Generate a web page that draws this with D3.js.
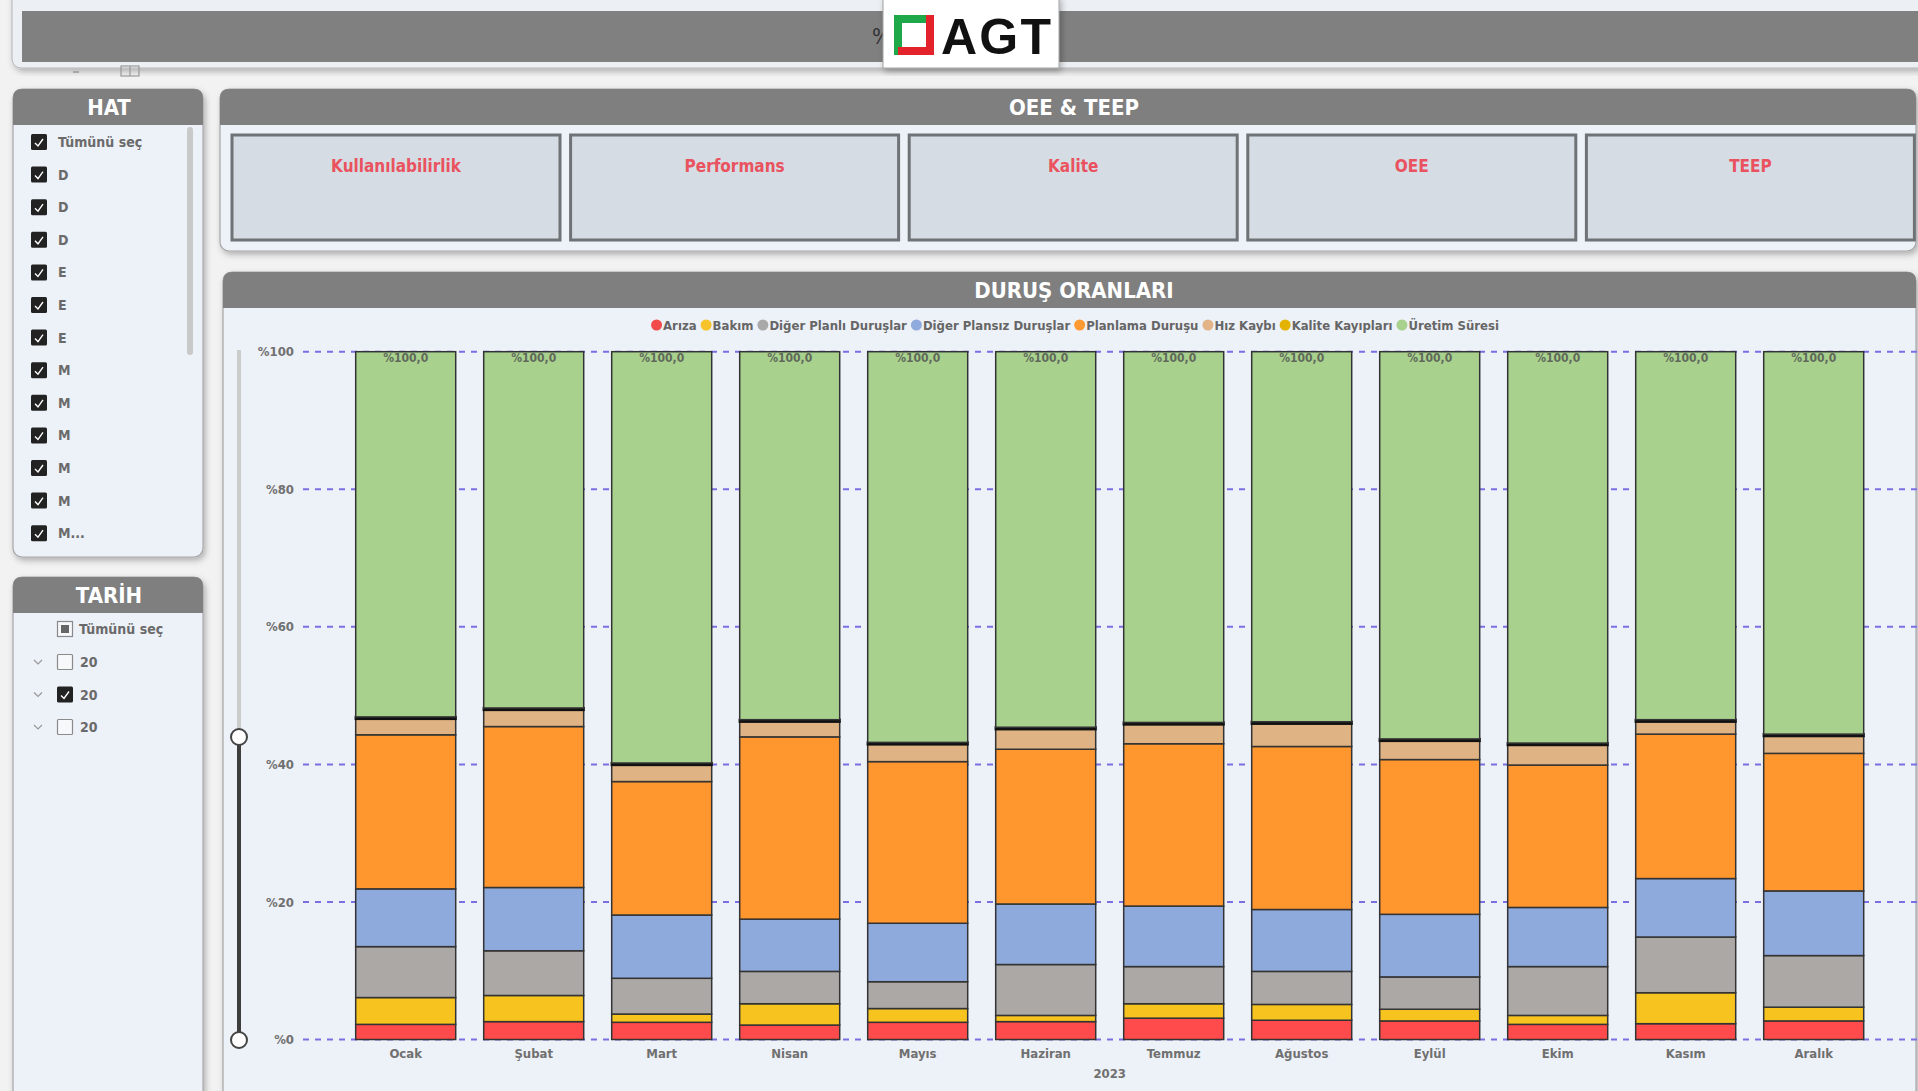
<!DOCTYPE html>
<html>
<head>
<meta charset="utf-8">
<script src="https://cdn.jsdelivr.net/npm/d3@7"></script>
<style>
html, body { margin: 0; padding: 0; background: #f2f2f2; overflow: hidden; }
svg { display: block; }
</style>
</head>
<body>
<div class="canvas"></div>
<script>
// chart data (values in % of total time)
const months = ['Ocak', 'Şubat', 'Mart', 'Nisan', 'Mayıs', 'Haziran', 'Temmuz', 'Ağustos', 'Eylül', 'Ekim', 'Kasım', 'Aralık']
const series = ['Arıza', 'Bakım', 'Diğer Planlı Duruşlar', 'Diğer Plansız Duruşlar', 'Planlama Duruşu', 'Hız Kaybı', 'Kalite Kayıpları', 'Üretim Süresi']
const seriesColors = ['#ff4b4b', '#f7c31f', '#aca8a5', '#8ea9dc', '#ff962e', '#dfb383', '#e2b000', '#a9d18e']
const legendColors = ['#f24b4b', '#f6c42a', '#a9a9a9', '#8faadc', '#ff9a33', '#e2b487', '#e3b300', '#a9d18e']

const ariza    = [2.2, 2.6, 2.5, 2.1, 2.5, 2.6, 3.1, 2.8, 2.7, 2.2, 2.3, 2.7]
const bakim    = [3.9, 3.8, 1.2, 3.1, 2.0, 0.9, 2.1, 2.3, 1.7, 1.3, 4.5, 2.0]
const planli   = [7.4, 6.5, 5.2, 4.7, 3.9, 7.4, 5.4, 4.8, 4.7, 7.1, 8.1, 7.5]
const plansiz  = [8.4, 9.2, 9.2, 7.6, 8.5, 8.8, 8.8, 9.0, 9.1, 8.6, 8.5, 9.4]
const planlama = [22.4, 23.4, 19.4, 26.5, 23.5, 22.5, 23.6, 23.7, 22.5, 20.7, 21.0, 20.0]
const hizKaybi = [2.3, 2.4, 2.4, 2.2, 2.5, 2.9, 2.8, 3.3, 2.7, 2.9, 1.8, 2.5]
const kalite   = [0.3, 0.3, 0.3, 0.3, 0.3, 0.3, 0.3, 0.3, 0.3, 0.3, 0.3, 0.3]
const uretim   = [53.1, 51.8, 59.8, 53.5, 56.8, 54.6, 53.9, 53.8, 56.3, 56.9, 53.5, 55.6]
const totals   = ['%100,0', '%100,0', '%100,0', '%100,0', '%100,0', '%100,0', '%100,0', '%100,0', '%100,0', '%100,0', '%100,0', '%100,0']

const yTicks = [0, 20, 40, 60, 80, 100]
const yearLabel = '2023'

const hatItems = ['Tümünü seç', 'D', 'D', 'D', 'E', 'E', 'E', 'M', 'M', 'M', 'M', 'M', 'M...']
const tarihItems = ['20', '20', '20']
const tarihChecked = [false, true, false]
const cards = ['Kullanılabilirlik', 'Performans', 'Kalite', 'OEE', 'TEEP']

const font = "'DejaVu Sans Condensed', 'Liberation Sans Narrow', Roboto, sans-serif"

const svg = d3.select('.canvas').append('svg')
    .attr('width', 1918)
    .attr('height', 1091)
    .style('font-family', font)

// drop shadow
const defs = svg.append('defs')
defs.append('filter').attr('id', 'shadow')
    .attr('x', '-5%').attr('y', '-5%').attr('width', '110%').attr('height', '115%')
    .append('feDropShadow')
    .attr('dx', 2).attr('dy', 3).attr('stdDeviation', 3)
    .attr('flood-color', '#000').attr('flood-opacity', 0.28)

// ---------- top header ----------
svg.append('rect')
    .attr('x', 12).attr('y', -12).attr('width', 1930).attr('height', 80).attr('rx', 9)
    .attr('fill', '#eceff3').attr('stroke', '#b5b5b5').attr('filter', 'url(#shadow)')
svg.append('rect')
    .attr('x', 22).attr('y', 11).attr('width', 1900).attr('height', 51)
    .attr('fill', '#808080')
svg.append('text')
    .attr('x', 872).attr('y', 44).attr('font-size', 22).attr('fill', '#333')
    .text('%')

// small icons under header
svg.append('line').attr('x1', 73).attr('x2', 79).attr('y1', 72).attr('y2', 72)
    .attr('stroke', '#999').attr('stroke-width', 1.5)
svg.append('rect').attr('x', 121).attr('y', 66).attr('width', 18).attr('height', 10)
    .attr('fill', 'none').attr('stroke', '#999').attr('stroke-width', 1.2)
svg.append('line').attr('x1', 130).attr('x2', 130).attr('y1', 66).attr('y2', 76)
    .attr('stroke', '#999').attr('stroke-width', 1.2)

// logo
const logo = svg.append('g')
logo.append('rect')
    .attr('x', 883).attr('y', -3).attr('width', 176).attr('height', 71)
    .attr('fill', '#fff').attr('stroke', '#a0a0a0').attr('filter', 'url(#shadow)')
logo.append('path')
    .attr('d', 'M894,15 H930 V23 H902 V55 H894 Z')
    .attr('fill', '#1fa84a')
logo.append('path')
    .attr('d', 'M934,15 V55 H898 V47 H926 V15 Z')
    .attr('fill', '#e3222b')
logo.append('text')
    .attr('x', 941).attr('y', 54)
    .attr('font-family', "'Liberation Sans', Arial, sans-serif")
    .attr('font-weight', 700).attr('font-size', 50).attr('fill', '#111')
    .attr('textLength', 110)
    .text('AGT')

// ---------- panel helper ----------
function panel(x, y, w, h, title, titleX, titleSize) {
    const g = svg.append('g')
    g.append('rect')
        .attr('x', x).attr('y', y).attr('width', w).attr('height', h).attr('rx', 9)
        .attr('fill', '#edf1f8').attr('stroke', '#a6a6a6').attr('stroke-width', 1.2)
        .attr('filter', 'url(#shadow)')
    g.append('path')
        .attr('d', `M${x},${y + 36} V${y + 9} Q${x},${y} ${x + 9},${y} H${x + w - 9} Q${x + w},${y} ${x + w},${y + 9} V${y + 36} Z`)
        .attr('fill', '#7f7f7f')
    g.append('text')
        .attr('x', titleX).attr('y', y + 18)
        .attr('text-anchor', 'middle').attr('dominant-baseline', 'central')
        .attr('fill', '#fff').attr('font-weight', 700).attr('font-size', titleSize)
        .text(title)
    return g
}

function checkbox(g, x, y, checked) {
    if (checked) {
        g.append('rect').attr('x', x).attr('y', y - 8).attr('width', 16).attr('height', 16).attr('rx', 1.5)
            .attr('fill', '#222')
        g.append('path').attr('d', `M${x + 4},${y + 1} L${x + 7},${y + 4} L${x + 12},${y - 3}`)
            .attr('fill', 'none').attr('stroke', '#fff').attr('stroke-width', 1.4)
    } else {
        g.append('rect').attr('x', x + 0.5).attr('y', y - 7.5).attr('width', 15).attr('height', 15).attr('rx', 1)
            .attr('fill', '#f7f8fa').attr('stroke', '#8a8a8a').attr('stroke-width', 1.2)
    }
}

// ---------- HAT slicer ----------
const hat = panel(13, 89, 190, 468, 'HAT', 109, 22)
hat.append('rect').attr('x', 187).attr('y', 127).attr('width', 6).attr('height', 228).attr('rx', 3)
    .attr('fill', '#c9c9c9')
hatItems.forEach((t, i) => {
    const cy = 142 + i * 32.6
    checkbox(hat, 31, cy, true)
    hat.append('text').attr('x', 58).attr('y', cy).attr('dominant-baseline', 'central')
        .attr('font-size', 14).attr('font-weight', 700).attr('fill', '#6a6a6a')
        .text(t)
})

// ---------- TARİH slicer ----------
const tarih = panel(13, 577, 190, 540, 'TARİH', 109, 22)
tarih.append('rect').attr('x', 57.5).attr('y', 621.5).attr('width', 15).attr('height', 15)
    .attr('fill', '#f7f8fa').attr('stroke', '#8a8a8a').attr('stroke-width', 1.2)
tarih.append('rect').attr('x', 61).attr('y', 625).attr('width', 8).attr('height', 8).attr('fill', '#666')
tarih.append('text').attr('x', 79).attr('y', 629).attr('dominant-baseline', 'central')
    .attr('font-size', 14).attr('font-weight', 700).attr('fill', '#6a6a6a').text('Tümünü seç')
tarihItems.forEach((t, i) => {
    const cy = 662 + i * 32.5
    tarih.append('path').attr('d', `M${34},${cy - 2} L${38},${cy + 2} L${42},${cy - 2}`)
        .attr('fill', 'none').attr('stroke', '#999').attr('stroke-width', 1.2)
    checkbox(tarih, 57, cy, tarihChecked[i])
    tarih.append('text').attr('x', 80).attr('y', cy).attr('dominant-baseline', 'central')
        .attr('font-size', 14).attr('font-weight', 700).attr('fill', '#6a6a6a').text(t)
})

// ---------- OEE & TEEP ----------
const oee = panel(220, 89, 1696, 162, 'OEE & TEEP', 1074, 22)
cards.forEach((c, i) => {
    const cx = 232 + i * 338.6
    oee.append('rect').attr('x', cx).attr('y', 135).attr('width', 328).attr('height', 105)
        .attr('fill', '#d5dce3').attr('stroke', '#6f7376').attr('stroke-width', 3)
    oee.append('text').attr('x', cx + 164).attr('y', 166)
        .attr('text-anchor', 'middle').attr('dominant-baseline', 'central')
        .attr('font-size', 17).attr('font-weight', 700).attr('fill', '#e9525e')
        .text(c)
})

// ---------- DURUŞ ORANLARI ----------
const chart = panel(223, 272, 1693, 840, 'DURUŞ ORANLARI', 1074, 22)

// legend
const legend = chart.append('g')
let lx = 0
series.forEach((s, i) => {
    const it = legend.append('g')
    it.append('circle').attr('r', 5.5).attr('cx', 5.5).attr('cy', 0).attr('fill', legendColors[i])
    const t = it.append('text').attr('x', 12).attr('y', 0).attr('dominant-baseline', 'central')
        .attr('font-size', 13).attr('font-weight', 700).attr('fill', '#666').text(s)
    const w = 12 + t.node().getComputedTextLength()
    it.attr('transform', `translate(${lx},0)`)
    lx += w + 4
})
legend.attr('transform', `translate(${1075 - (lx - 4) / 2},325)`)

// scales
const x = d3.scaleBand()
    .domain(months)
    .range([341.7, 341.7 + 12 * 128])
    .paddingInner(0.21875)
    .paddingOuter(0.109375)

const y = d3.scaleLinear()
    .domain([0, 100])
    .range([1039.5, 351.7])

// gridlines
chart.append('g').selectAll('line')
    .data(yTicks)
    .join('line')
    .attr('x1', 303).attr('x2', 1918)
    .attr('y1', d => y(d)).attr('y2', d => y(d))
    .attr('stroke', '#7a70e4').attr('stroke-width', 2).attr('stroke-dasharray', '6,6')

// y axis labels
const yAxis = chart.append('g')
    .attr('transform', 'translate(294,0)')
    .call(d3.axisLeft(y).tickValues(yTicks).tickFormat(d => '%' + d).tickSize(0).tickPadding(0))
yAxis.select('.domain').remove()
yAxis.selectAll('text').attr('font-family', font).attr('font-size', 13).attr('font-weight', 700).attr('fill', '#707070')

// slider at left
chart.append('line').attr('x1', 239).attr('x2', 239).attr('y1', 350).attr('y2', 737)
    .attr('stroke', '#cbcbcb').attr('stroke-width', 4)
chart.append('line').attr('x1', 239).attr('x2', 239).attr('y1', 737).attr('y2', 1040)
    .attr('stroke', '#3d3d3d').attr('stroke-width', 4)
chart.selectAll('.knob').data([737, 1040]).join('circle')
    .attr('cx', 239).attr('cy', d => d).attr('r', 8)
    .attr('fill', '#fff').attr('stroke', '#444').attr('stroke-width', 2)

// stacked bars
const table = months.map((m, i) => ({
    month: m,
    [series[0]]: ariza[i],
    [series[1]]: bakim[i],
    [series[2]]: planli[i],
    [series[3]]: plansiz[i],
    [series[4]]: planlama[i],
    [series[5]]: hizKaybi[i],
    [series[6]]: kalite[i],
    [series[7]]: uretim[i]
}))
const stacked = d3.stack().keys(series)(table)

chart.append('g').selectAll('g')
    .data(stacked)
    .join('g')
    .attr('fill', (d, i) => seriesColors[i])
    .attr('stroke', d => d.key === 'Kalite Kayıpları' ? '#111' : '#333')
    .attr('stroke-width', d => d.key === 'Kalite Kayıpları' ? 2.2 : 1.5)
    .selectAll('rect')
    .data(d => d)
    .join('rect')
    .attr('x', d => x(d.data.month))
    .attr('width', x.bandwidth())
    .attr('y', d => y(d[1]))
    .attr('height', d => y(d[0]) - y(d[1]))

// total labels
chart.append('g').selectAll('text')
    .data(months)
    .join('text')
    .attr('x', d => x(d) + x.bandwidth() / 2)
    .attr('y', y(100) + 6)
    .attr('text-anchor', 'middle').attr('dominant-baseline', 'central')
    .attr('font-size', 12).attr('font-weight', 700).attr('fill', '#5f6a5a')
    .text((d, i) => totals[i])

// x axis
const xAxis = chart.append('g')
    .attr('transform', `translate(0,${y(0)})`)
    .call(d3.axisBottom(x).tickSize(0).tickPadding(9))
xAxis.select('.domain').remove()
xAxis.selectAll('text').attr('font-family', font).attr('font-size', 13).attr('font-weight', 700).attr('fill', '#707070')

chart.append('text')
    .attr('x', (x.range()[0] + x.range()[1]) / 2)
    .attr('y', 1073)
    .attr('text-anchor', 'middle').attr('dominant-baseline', 'central')
    .attr('font-size', 13).attr('font-weight', 700).attr('fill', '#707070')
    .text(yearLabel)
</script>
</body>
</html>
